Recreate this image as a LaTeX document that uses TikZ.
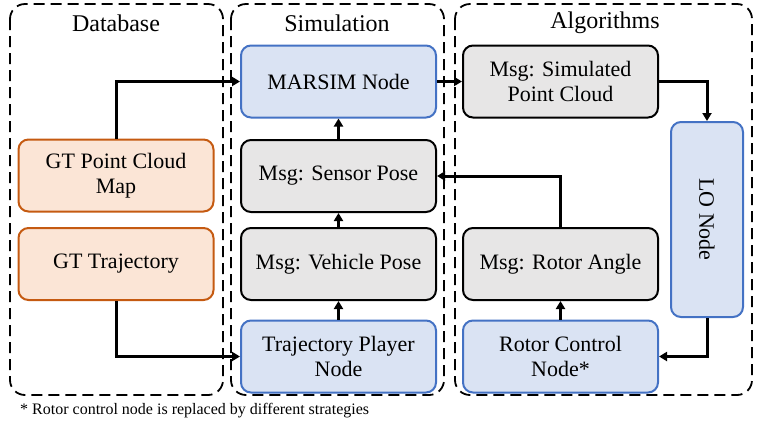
\documentclass[tikz,border=0pt]{standalone}
\usepackage{fontspec}
\setmainfont{Liberation Serif}
\usetikzlibrary{arrows.meta}
\definecolor{bluefill}{HTML}{DAE3F3}
\definecolor{blueline}{HTML}{4472C4}
\definecolor{orfill}{HTML}{FBE5D6}
\definecolor{orline}{HTML}{C55A11}
\definecolor{grfill}{HTML}{E7E6E6}
\begin{document}
\begin{tikzpicture}[x=1pt,y=-1pt,
  box/.style={rounded corners=10pt, line width=2pt, minimum width=195pt, minimum height=72pt, inner sep=0pt, align=center, font=\fontsize{22}{25}\selectfont},
  bluebox/.style={box, draw=blueline, fill=bluefill},
  orbox/.style={box, draw=orline, fill=orfill},
  graybox/.style={box, draw=black, fill=grfill},
  group/.style={draw=black, line width=1.8pt, dash pattern=on 11pt off 6pt, rounded corners=15pt},
  title/.style={font=\fontsize{24}{28}\selectfont, inner sep=0pt},
  conn/.style={line width=3pt, -{Triangle[length=8pt,width=9pt]}}
]
\useasboundingbox (0,0) rectangle (761,424);
\draw[group] (10,4) rectangle (223,395);
\draw[group] (231,4) rectangle (444,395);
\draw[group] (455,4) rectangle (752,395);
\node[title] (tdb) at (116,23) {Database};
\node[title] (tsim) at (337,23) {Simulation};
\node[title] (talg) at (605,23) {Algorithms};

\node[orbox] (gtpc) at (116,175.5) {GT Point Cloud\\Map};
\node[orbox] (gttraj) at (116,264) {GT Trajectory};
\node[bluebox] (marsim) at (338.5,81.5) {MARSIM Node};
\node[graybox] (sensor) at (338.5,176) {Msg: Sensor Pose};
\node[graybox] (vehicle) at (338.5,264) {Msg: Vehicle Pose};
\node[bluebox] (player) at (338.5,356.5) {Trajectory Player\\Node};
\node[graybox] (simpc) at (560.5,81.5) {Msg: Simulated\\Point Cloud};
\node[bluebox, minimum width=72pt, minimum height=195pt] (lo) at (707,219.5) {};
\node[rotate=-90, font=\fontsize{22}{25}\selectfont] (lotext) at (lo.center) {LO Node};
\node[graybox] (rotor) at (560.5,264) {Msg: Rotor Angle};
\node[bluebox] (rctrl) at (560.5,356.5) {Rotor Control\\Node*};

\draw[conn] (gtpc.north) |- (marsim.west);
\draw[conn] (gttraj.south) |- (player.west);
\draw[conn] (marsim.east) -- (simpc.west);
\draw[conn] (simpc.east) -| (lo.north);
\draw[conn] (lo.south) |- (rctrl.east);
\draw[conn] (rctrl.north) -- (rotor.south);
\draw[conn] (rotor.north) |- (sensor.east);
\draw[conn] (player.north) -- (vehicle.south);
\draw[conn] (vehicle.north) -- (sensor.south);
\draw[conn] (sensor.north) -- (marsim.south);

\node[anchor=west, inner sep=0pt, font=\fontsize{16}{19}\selectfont] (foot) at (20,411) {* Rotor control node is replaced by different strategies};
\end{tikzpicture}
\end{document}
